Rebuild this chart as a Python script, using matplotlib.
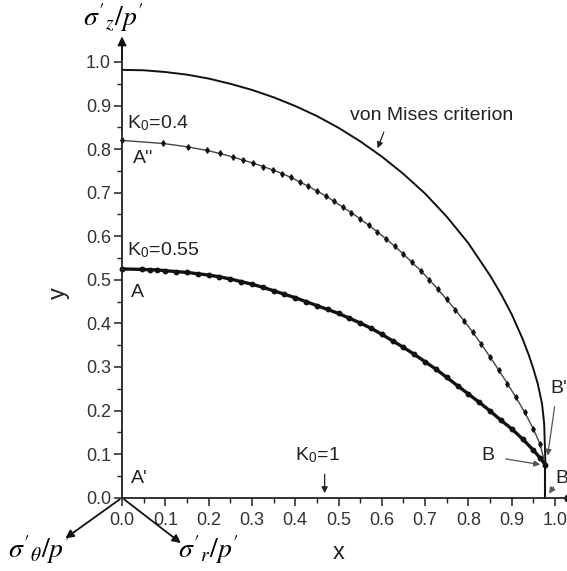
import matplotlib
matplotlib.use("Agg")
import matplotlib.pyplot as plt

plt.rcParams['font.family'] = ['Liberation Sans', 'DejaVu Sans']
plt.rcParams['mathtext.fontset'] = 'stix'

# von Mises criterion
vm_x = [0.0, 0.05, 0.1, 0.15, 0.2, 0.25, 0.3, 0.35, 0.4, 0.45, 0.5, 0.55, 0.6, 0.65, 0.7, 0.75,
        0.8, 0.85, 0.875, 0.9, 0.925, 0.94, 0.95, 0.96, 0.97, 0.975, 0.978]
vm_y = [0.982, 0.981, 0.977, 0.971, 0.962, 0.950, 0.936, 0.919, 0.899, 0.876, 0.849, 0.818, 0.783,
        0.743, 0.698, 0.645, 0.584, 0.510, 0.468, 0.421, 0.365, 0.326, 0.296, 0.262, 0.216, 0.170, 0.075]

# K0 = 0.4 path
k04_x = [0.0, 0.095, 0.153, 0.196, 0.226, 0.256, 0.279, 0.303, 0.326, 0.349, 0.37, 0.39, 0.41, 0.43,
         0.45, 0.47, 0.49, 0.51, 0.53, 0.55, 0.57, 0.59, 0.61, 0.63, 0.65, 0.67, 0.69, 0.71, 0.73,
         0.75, 0.77, 0.79, 0.81, 0.83, 0.85, 0.87, 0.89, 0.91, 0.93, 0.95, 0.965, 0.978]
k04_y = [0.820, 0.813, 0.805, 0.797, 0.790, 0.782, 0.775, 0.768, 0.760, 0.752, 0.744, 0.735, 0.725, 0.715,
         0.704, 0.693, 0.680, 0.667, 0.654, 0.640, 0.625, 0.610, 0.594, 0.577, 0.559, 0.540, 0.521, 0.500, 0.478,
         0.455, 0.431, 0.406, 0.380, 0.352, 0.323, 0.293, 0.262, 0.230, 0.196, 0.158, 0.124, 0.075]

# K0 = 0.55 path
k055_x = [0.0, 0.046, 0.065, 0.08, 0.1, 0.125, 0.15, 0.175, 0.2, 0.225, 0.25, 0.275, 0.3, 0.325, 0.35,
          0.375, 0.4, 0.425, 0.45, 0.475, 0.5, 0.525, 0.55, 0.575, 0.6, 0.625, 0.65, 0.675, 0.7,
          0.725, 0.75, 0.775, 0.8, 0.825, 0.85, 0.875, 0.9, 0.925, 0.95, 0.965, 0.978]
k055_y = [0.525, 0.524, 0.523, 0.523, 0.521, 0.519, 0.517, 0.514, 0.511, 0.507, 0.502, 0.496, 0.490, 0.483,
          0.475, 0.467, 0.459, 0.450, 0.441, 0.432, 0.423, 0.412, 0.401, 0.389, 0.375, 0.360, 0.345,
          0.329, 0.312, 0.295, 0.276, 0.257, 0.238, 0.219, 0.199, 0.178, 0.158, 0.135, 0.109, 0.092, 0.075]

# B -> B'' segment
bb_x = [0.978, 0.978]
bb_y = [0.075, 0.0]

major_ticks = [0.0, 0.1, 0.2, 0.3, 0.4, 0.5, 0.6, 0.7, 0.8, 0.9, 1.0]
tick_labels = ['0.0', '0.1', '0.2', '0.3', '0.4', '0.5', '0.6', '0.7', '0.8', '0.9', '1.0']
minor_ticks = [0.05, 0.15, 0.25, 0.35, 0.45, 0.55, 0.65, 0.75, 0.85, 0.95]

W, H = 567, 571
fig = plt.figure(figsize=(W / 100, H / 100), dpi=100)
ax = fig.add_axes([0, 0, 1, 1])
ox, sx = 122, 433.0
oy, sy = 497.7, 435.7
ax.set_xlim(-ox / sx, (W - ox) / sx)
ax.set_ylim(-(H - oy) / sy, oy / sy)
ax.patch.set_alpha(0)

for s in ['top', 'right']:
    ax.spines[s].set_visible(False)
ax.spines['left'].set_position(('data', 0))
ax.spines['bottom'].set_position(('data', 0))
ax.spines['left'].set_bounds(0, 1.05)
ax.spines['bottom'].set_bounds(0, 1.1)
for s in ['left', 'bottom']:
    ax.spines[s].set_linewidth(1.3)
    ax.spines[s].set_color('#222222')

ax.set_xticks(major_ticks)
ax.set_xticklabels(tick_labels)
ax.set_yticks(major_ticks)
ax.set_yticklabels(tick_labels)
ax.set_xticks(minor_ticks, minor=True)
ax.set_yticks(minor_ticks, minor=True)
ax.tick_params(which='major', direction='out', length=6, width=1.1, labelsize=13,
               color='#222222', labelcolor='#333333')
ax.tick_params(which='minor', direction='out', length=3.5, width=1.0, color='#222222')
ax.tick_params(axis='x', pad=4)
ax.tick_params(axis='y', pad=2)

# axis arrows
ax.annotate('', xy=(0, 1.065), xytext=(0, 1.0),
            arrowprops=dict(arrowstyle='-|>', color='#111111', lw=1.2, mutation_scale=13))
ax.plot([1.03], [0.0], marker='o', ms=5, color='#111111')

# oblique axes
ax.annotate('', xy=(-0.136, -0.097), xytext=(0, 0),
            arrowprops=dict(arrowstyle='-|>', color='#111111', lw=1.3, mutation_scale=12))
ax.annotate('', xy=(0.141, -0.108), xytext=(0, 0),
            arrowprops=dict(arrowstyle='-|>', color='#111111', lw=1.3, mutation_scale=12))

# curves
ax.plot(vm_x, vm_y, color='#111111', lw=1.4)
ax.plot(k04_x, k04_y, color='#444444', lw=1.0, marker='d', ms=2.8, mfc='#111111', mec='#111111')
ax.plot(k055_x, k055_y, color='#111111', lw=2.4, marker='o', ms=3.2)
ax.plot(bb_x, bb_y, color='#111111', lw=1.5)

tk = dict(fontsize=14, color='#222222')
ax.text(0.012, 0.838, r'K$_\mathregular{0}$=0.4', **tk, va='bottom')
ax.text(0.025, 0.778, "A''", **tk, va='center')
ax.text(0.012, 0.545, r'K$_\mathregular{0}$=0.55', **tk, va='bottom')
ax.text(0.02, 0.472, 'A', **tk, va='center')
ax.text(0.02, 0.043, "A'", **tk, va='center')
ax.text(0.4, 0.075, r'K$_\mathregular{0}$=1', **tk, va='bottom')
ax.annotate('', xy=(0.468, 0.004), xytext=(0.468, 0.06),
            arrowprops=dict(arrowstyle='-|>', color='#222222', lw=0.9, mutation_scale=9))
ax.text(0.526, 0.858, 'von Mises criterion', **tk, va='bottom')
ax.annotate('', xy=(0.588, 0.796), xytext=(0.607, 0.845),
            arrowprops=dict(arrowstyle='-|>', color='#222222', lw=0.9, mutation_scale=9))

ax.text(0.83, 0.098, 'B', **tk, va='center')
ax.annotate('', xy=(0.972, 0.075), xytext=(0.88, 0.09),
            arrowprops=dict(arrowstyle='-|>', color='#555555', lw=0.9, mutation_scale=9))
ax.text(0.99, 0.25, "B'", **tk, va='center')
ax.annotate('', xy=(0.982, 0.09), xytext=(1.0, 0.215),
            arrowprops=dict(arrowstyle='-|>', color='#555555', lw=0.9, mutation_scale=9))
ax.text(1.0, 0.045, "B''", **tk, va='center')
ax.annotate('', xy=(0.983, 0.004), xytext=(1.0, 0.03),
            arrowprops=dict(arrowstyle='-|>', color='#555555', lw=0.9, mutation_scale=9))

ax.text(0.5, -0.128, 'x', fontsize=17, ha='center', va='center', color='#222222')
ax.text(-0.145, 0.47, 'y', fontsize=17, ha='center', va='center', rotation=90, color='#222222')
ax.text(-0.02, 1.103, r"$\sigma^{\prime}{}_{z}/p^{\prime}$", fontsize=20, ha='center', va='center')
ax.text(-0.19, -0.12, r"$\sigma^{\prime}{}_{\theta}/p^{\prime}$", fontsize=20, ha='center', va='center')
ax.text(0.20, -0.12, r"$\sigma^{\prime}{}_{r}/p^{\prime}$", fontsize=20, ha='center', va='center')

fig.savefig('out.png', dpi=100)
